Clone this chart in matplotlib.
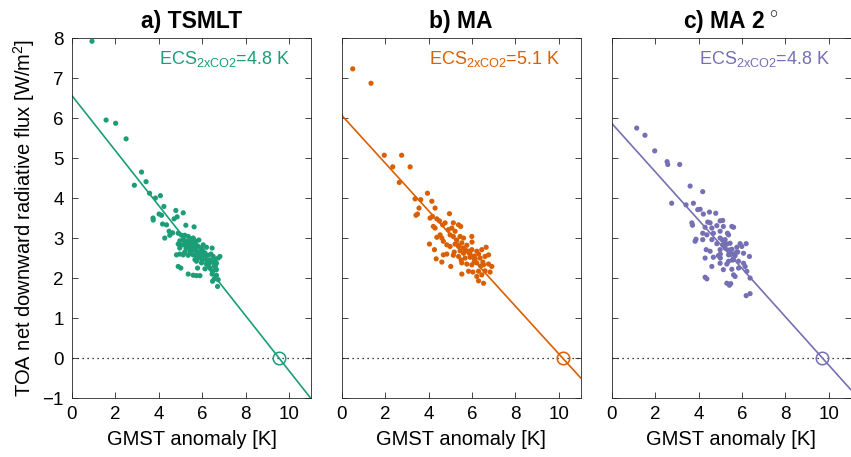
import matplotlib
matplotlib.use("Agg")
import numpy as np
import matplotlib.pyplot as plt

# GMST anomaly [K] and TOA net flux [W/m2]
tsmlt_gmst = [0.92, 1.57, 2.01, 2.49, 2.87, 3.20, 3.41, 3.57, 3.84, 4.07, 4.23, 3.73, 3.74, 4.01,
              4.12, 4.78, 5.12, 4.84, 4.70, 4.17, 4.35, 5.24, 5.62, 4.47, 4.63, 4.27, 4.50,
              4.89, 5.04, 5.19, 5.35, 5.46, 5.58, 4.96, 5.12, 5.27, 5.42, 5.66, 5.84, 4.89, 5.07,
              5.19, 4.96, 5.35, 5.50, 5.66, 5.81, 6.04, 6.19, 6.45, 5.19, 5.42, 5.73, 4.81, 4.96,
              5.12, 5.35, 5.58, 5.73, 5.93, 6.12, 6.27, 6.50, 6.81, 5.66, 5.89, 6.19, 6.58, 6.73,
              4.89, 5.01, 5.73, 5.96, 6.19, 6.45, 6.65, 6.12, 6.35, 6.50, 6.65, 5.78, 5.35, 5.58,
              5.73, 5.89, 6.45, 6.65, 6.55, 6.73, 6.47, 6.70, 5.30, 5.50, 5.60, 5.90, 6.00, 6.30,
              6.40, 6.60, 6.00, 5.80, 5.25, 5.45, 5.55, 5.70, 5.95, 6.10, 6.35, 6.55]
tsmlt_toa = [7.92, 5.95, 5.87, 5.48, 4.32, 4.65, 4.41, 4.12, 4.00, 4.06, 3.79, 3.50, 3.45, 3.60,
             3.57, 3.69, 3.63, 3.53, 3.48, 3.35, 3.33, 3.32, 3.28, 3.17, 3.13, 3.00, 3.07,
             3.12, 3.07, 3.07, 3.04, 2.98, 3.00, 2.93, 2.96, 2.92, 2.88, 2.93, 2.95, 2.85, 2.83,
             2.85, 2.75, 2.79, 2.75, 2.77, 2.79, 2.83, 2.77, 2.75, 2.65, 2.68, 2.68, 2.58, 2.60,
             2.58, 2.57, 2.58, 2.54, 2.58, 2.63, 2.57, 2.54, 2.54, 2.46, 2.50, 2.46, 2.46, 2.50,
             2.29, 2.25, 2.42, 2.38, 2.35, 2.40, 2.37, 2.23, 2.25, 2.18, 2.21, 2.25, 2.10, 2.07,
             2.06, 2.06, 2.10, 2.07, 1.98, 1.96, 1.92, 1.79, 2.85, 2.85, 2.70, 2.65, 2.45, 2.35,
             2.60, 2.30, 2.70, 2.60, 2.75, 2.62, 2.95, 2.85, 2.75, 2.55, 2.45, 2.30]

ma_gmst = [0.51, 1.35, 1.96, 2.76, 2.35, 3.15, 2.65, 3.95, 3.38, 3.64, 4.15, 3.56, 3.42, 3.49,
           4.30, 4.96, 4.07, 4.18, 4.38, 4.50, 4.65, 4.76, 4.22, 4.30, 5.14, 5.38, 5.48, 4.91,
           5.07, 5.22, 4.53, 4.61, 4.38, 4.99, 5.14, 5.45, 5.61, 5.99, 4.04, 4.68, 4.84, 4.99,
           5.22, 5.38, 5.53, 5.76, 4.27, 4.68, 4.84, 5.14, 5.18, 5.45, 5.61, 5.84, 5.99, 6.22,
           6.45, 6.65, 4.35, 4.61, 5.38, 5.68, 5.91, 6.14, 6.37, 6.60, 6.76, 5.02, 5.53, 5.76,
           5.99, 6.22, 6.53, 6.76, 6.91, 5.84, 6.04, 6.30, 6.60, 6.83, 5.53, 6.22, 6.45, 6.53,
           6.30, 5.70, 5.90, 6.10, 6.00, 6.40, 5.30, 5.60, 5.90, 6.10, 6.30, 5.50, 6.50]
ma_toa = [7.23, 6.87, 5.07, 5.07, 4.78, 4.78, 4.39, 4.12, 3.98, 3.96, 3.92, 3.75, 3.57, 3.60,
          3.75, 3.61, 3.50, 3.54, 3.48, 3.43, 3.33, 3.38, 3.29, 3.25, 3.38, 3.33, 3.29, 3.21,
          3.25, 3.17, 3.08, 3.00, 3.02, 3.08, 3.04, 3.04, 3.00, 3.04, 2.85, 2.92, 2.83, 2.79,
          2.85, 2.79, 2.88, 2.82, 2.71, 2.58, 2.60, 2.57, 2.65, 2.68, 2.62, 2.67, 2.71, 2.67,
          2.71, 2.77, 2.48, 2.40, 2.54, 2.50, 2.52, 2.48, 2.50, 2.54, 2.58, 2.29, 2.38, 2.35,
          2.33, 2.38, 2.33, 2.35, 2.29, 2.17, 2.15, 2.17, 2.18, 2.15, 2.10, 2.04, 2.08, 1.87,
          1.93, 2.70, 2.60, 2.40, 2.90, 2.30, 2.95, 2.75, 2.65, 2.55, 2.60, 2.45, 2.40]

ma2_gmst = [1.15, 1.53, 1.98, 2.55, 2.58, 3.13, 3.61, 4.19, 2.76, 3.42, 3.76, 3.96, 4.07, 4.22,
            4.50, 4.79, 3.69, 3.72, 4.42, 4.53, 4.99, 5.11, 4.30, 4.61, 4.84, 5.14, 5.53, 5.61,
            5.33, 5.38, 4.19, 4.38, 4.68, 4.99, 3.88, 3.84, 4.19, 4.61, 4.99, 5.22, 4.84, 5.11,
            5.45, 5.91, 6.19, 4.35, 4.53, 4.99, 5.22, 5.53, 5.76, 5.99, 4.30, 4.68, 4.91, 5.38,
            5.68, 6.07, 6.34, 4.61, 4.99, 5.38, 5.61, 5.84, 6.07, 5.14, 5.53, 5.84, 6.14, 6.22,
            4.30, 4.38, 5.61, 5.68, 6.37, 5.30, 5.42, 5.48, 6.19, 6.37, 5.20, 5.40, 5.60, 5.00,
            5.30, 5.80, 5.10, 5.30, 5.45, 5.55, 5.75, 5.00]
ma2_toa = [5.75, 5.57, 5.18, 4.91, 4.84, 4.84, 4.30, 4.16, 3.87, 3.83, 3.87, 3.71, 3.72, 3.60,
           3.65, 3.62, 3.38, 3.32, 3.40, 3.38, 3.43, 3.44, 3.27, 3.25, 3.31, 3.29, 3.29, 3.27,
           3.12, 3.08, 3.12, 3.08, 3.12, 3.17, 2.97, 2.92, 2.96, 2.96, 3.00, 2.96, 2.86, 2.83,
           2.87, 2.86, 2.86, 2.71, 2.67, 2.71, 2.75, 2.72, 2.77, 2.79, 2.50, 2.52, 2.56, 2.58,
           2.56, 2.62, 2.54, 2.29, 2.37, 2.42, 2.46, 2.42, 2.37, 2.21, 2.22, 2.25, 2.29, 2.17,
           2.02, 1.98, 2.08, 2.04, 2.00, 1.87, 1.82, 1.86, 1.56, 1.61, 2.90, 2.70, 2.60, 2.50,
           2.35, 2.65, 2.95, 2.85, 2.62, 2.45, 2.65, 2.60]

# regression: flux at zero warming and equilibrium warming (flux = 0)
fit_intercepts = [6.56, 6.07, 5.87]
fit_zero_crossings = [9.53, 10.17, 9.70]

titles = ["a) TSMLT", "b) MA", r"c) MA 2$^{\,\circ}$"]
ecs_labels = ["4.8", "5.1", "4.8"]
x_ticks = [0, 2, 4, 6, 8, 10]
y_ticks = [-1, 0, 1, 2, 3, 4, 5, 6, 7, 8]

COLOURS = ["#1b9e77", "#d95f02", "#7570b3"]
AXIS_COLOUR = "#262626"


def setup_fonts():
    plt.rcParams["font.family"] = ["Liberation Sans", "DejaVu Sans"]
    plt.rcParams["mathtext.fontset"] = "custom"
    plt.rcParams["mathtext.rm"] = "Liberation Sans"
    plt.rcParams["mathtext.it"] = "Liberation Sans:italic"
    plt.rcParams["mathtext.bf"] = "Liberation Sans:bold"


def draw_panel(ax, gmst, toa, intercept, x0, colour, title, ecs, first):
    ax.axhline(0, color="black", linestyle=(0, (1, 3)), linewidth=0.9, zorder=1)

    x_line = np.array([0, 11])
    ax.plot(x_line, intercept - intercept / x0 * x_line, color=colour, linewidth=1.2, zorder=2)
    ax.scatter(gmst, toa, s=14, color=colour, edgecolors="none", zorder=3)
    ax.plot([x0], [0], marker="o", markersize=9, markerfacecolor="none",
            markeredgecolor=colour, markeredgewidth=1.1, zorder=4)

    ax.text(0.915, 0.97, r"ECS$_{\mathrm{2xCO2}}$=" + ecs + " K", color=colour,
            fontsize=13, ha="right", va="top", transform=ax.transAxes)

    ax.set_xlim(0, 11)
    ax.set_ylim(-1, 8)
    ax.set_xticks(x_ticks)
    ax.set_yticks(y_ticks)
    ax.tick_params(direction="in", top=True, right=True, length=4, width=0.6,
                   labelsize=13.5, colors=AXIS_COLOUR, labelcolor="black", pad=6)
    for spine in ax.spines.values():
        spine.set_color(AXIS_COLOUR)
        spine.set_linewidth(0.6)

    ax.set_title(title, fontsize=16.5, fontweight="bold", pad=7)
    ax.set_xlabel("GMST anomaly [K]", fontsize=14.5, labelpad=5)
    if first:
        ax.set_ylabel(r"TOA net downward radiative flux [W/m$^2$]", fontsize=14.5, labelpad=4)
    else:
        ax.set_yticklabels([])


def main():
    setup_fonts()
    fig = plt.figure(figsize=(8.51, 4.57), dpi=100)

    lefts = [0.0846, 0.4015, 0.7188]
    all_gmst = [tsmlt_gmst, ma_gmst, ma2_gmst]
    all_toa = [tsmlt_toa, ma_toa, ma2_toa]

    for i in range(3):
        ax = fig.add_axes([lefts[i], 0.129, 0.2808, 0.7877])
        draw_panel(ax, all_gmst[i], all_toa[i], fit_intercepts[i], fit_zero_crossings[i],
                   COLOURS[i], titles[i], ecs_labels[i], i == 0)

    fig.savefig("out.png", dpi=100)


if __name__ == "__main__":
    main()
